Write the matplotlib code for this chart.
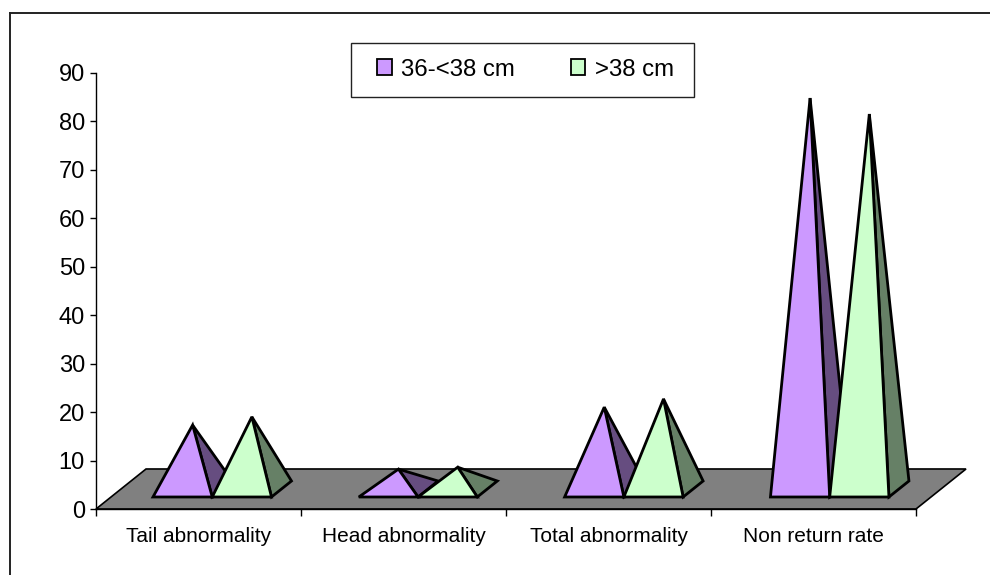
import matplotlib
matplotlib.use('Agg')
import matplotlib.pyplot as plt
from matplotlib.lines import Line2D
from matplotlib.patches import Patch, Polygon, Rectangle

plt.rcParams['font.family'] = ['Liberation Sans', 'DejaVu Sans']

categories = ['Tail abnormality', 'Head abnormality', 'Total abnormality', 'Non return rate']
small_girth = [13.2, 4.1, 16.9, 80.7]
large_girth = [14.9, 4.5, 18.6, 77.4]
series_names = ['36-<38 cm', '>38 cm']

# fake 3d offsets, in data units
BAR_START = 0.278
BAR_STEP = 1.004
BAR_W = 0.289
BASE_Y = 2.48
DEPTH_X = 0.0976
DEPTH_Y = 3.3
FLOOR_X = 0.244
FLOOR_Y = 8.26

W, H = 990, 575
fig = plt.figure(figsize=(W / 100, H / 100), dpi=100)
ax = fig.add_axes([96 / W, 1 - 509 / H, 820 / W, 436 / H])
ax.set_xlim(0, len(categories))
ax.set_ylim(0, 90)


def pyramid(x, value, front, side):
    # side face goes first so the front face sits on top of it
    apex = (x + BAR_W / 2 + DEPTH_X / 2, BASE_Y + DEPTH_Y / 2 + value)
    right = (x + BAR_W, BASE_Y)
    back = (x + BAR_W + DEPTH_X, BASE_Y + DEPTH_Y)
    ax.add_patch(Polygon([right, back, apex], fc=side, ec='black', lw=2.0, joinstyle='miter', clip_on=False, zorder=3))
    ax.add_patch(Polygon([(x, BASE_Y), right, apex], fc=front, ec='black', lw=2.0, joinstyle='miter', clip_on=False, zorder=3))


floor = [(0, 0), (FLOOR_X, FLOOR_Y), (len(categories) + FLOOR_X, FLOOR_Y), (len(categories), 0)]
ax.add_patch(Polygon(floor, fc='#808080', ec='black', lw=1.2, clip_on=False, zorder=2))

for i in range(len(categories)):
    pyramid(i * BAR_STEP + BAR_START, small_girth[i], '#CC99FF', '#664D80')
    pyramid(i * BAR_STEP + BAR_START + BAR_W, large_girth[i], '#CCFFCC', '#668066')

for s in ['top', 'right']:
    ax.spines[s].set_visible(False)
for s in ['left', 'bottom']:
    ax.spines[s].set_linewidth(1.0)

ax.set_yticks(range(0, 100, 10))
ax.tick_params(axis='y', labelsize=17, length=4.5, width=1, pad=3.5)
ax.set_xticks(range(len(categories) + 1))
ax.set_xticklabels([])
ax.set_xticks([i + 0.5 for i in range(len(categories))], minor=True)
ax.set_xticklabels(categories, minor=True, fontsize=15)
ax.tick_params(axis='x', which='major', length=5, width=1)
ax.tick_params(axis='x', which='minor', length=0, pad=13)

# legend frame is a fixed box, entries are centred inside it
fig.add_artist(Rectangle((351 / W, 1 - 96.5 / H), 343 / W, 53.5 / H, transform=fig.transFigure,
                         fc='white', ec='#222222', lw=1.0))
handles = [Patch(fc='#CC99FF', ec='black', lw=1.3), Patch(fc='#CCFFCC', ec='black', lw=1.3)]
leg = fig.legend(handles, series_names, ncol=2, loc='center',
                 bbox_to_anchor=(525.5 / W, 1 - 69.5 / H), fontsize=17.3, frameon=False,
                 handlelength=0.62, handleheight=0.62, handletextpad=0.38,
                 columnspacing=2.3, borderpad=0, borderaxespad=0)

# chart border only shows on the top and left, the rest is cropped away
fig.add_artist(Line2D([9.5 / W, 9.5 / W], [0, 1 - 12.5 / H], transform=fig.transFigure, color='#222222', lw=1.4))
fig.add_artist(Line2D([9.5 / W, 1], [1 - 12.5 / H, 1 - 12.5 / H], transform=fig.transFigure, color='#222222', lw=1.4))

fig.savefig('out.png', dpi=100)
